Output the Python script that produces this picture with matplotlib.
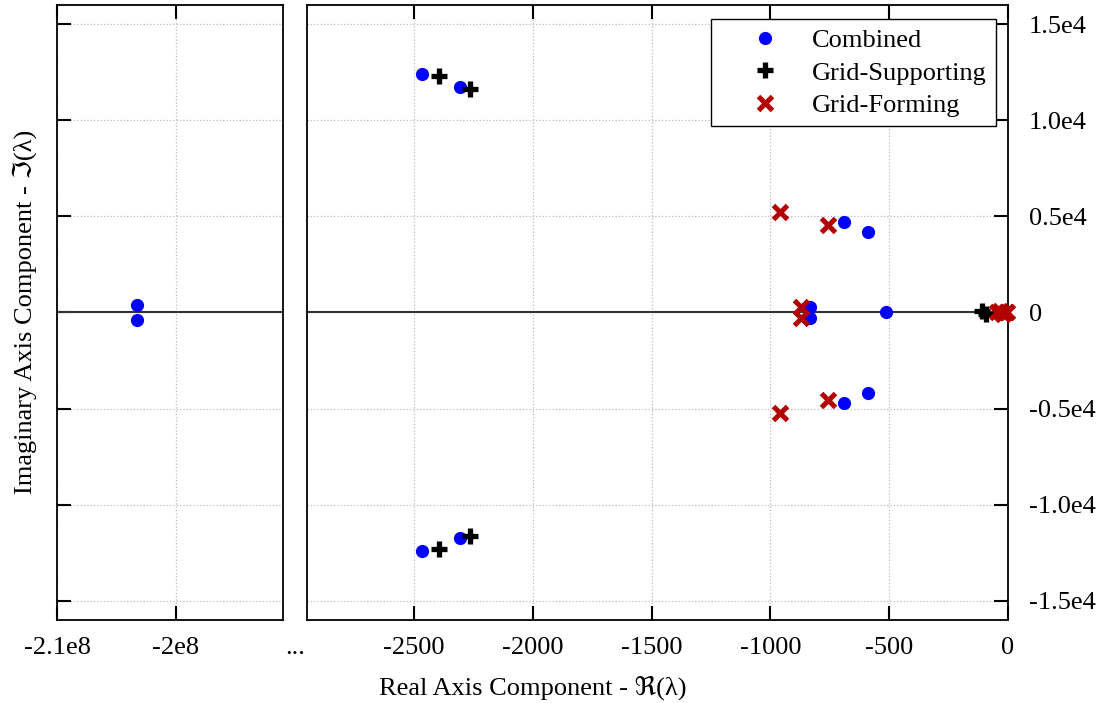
import matplotlib
matplotlib.use("Agg")
import matplotlib.pyplot as plt

plt.rcParams['font.family'] = ['Liberation Serif', 'DejaVu Serif', 'DejaVu Sans']
plt.rcParams['font.size'] = 19

# eigenvalues (real, imaginary)
combined_re = [-2.033e8, -2.033e8, -2466, -2466, -2307, -2307, -689, -689,
               -588, -588, -832, -832, -513]
combined_im = [400, -400, 12400, -12400, 11730, -11730, 4700, -4700,
               4190, -4190, 290, -290, 0]

supporting_re = [-2395, -2395, -2265, -2265, -108, -92]
supporting_im = [12300, -12300, 11620, -11620, 60, -60]

forming_re = [-958, -958, -756, -756, -870, -870, -45, -32, -20, -10, -3]
forming_im = [5230, -5230, 4550, -4550, 300, -300, 0, 60, -60, 0, 0]

left_xticks = [-2.1e8, -2e8]
left_xlabels = ['-2.1e8', '-2e8']
right_xticks = [-2500, -2000, -1500, -1000, -500, 0]
right_xlabels = ['-2500', '-2000', '-1500', '-1000', '-500', '0']
yticks = [-15000, -10000, -5000, 0, 5000, 10000, 15000]
ylabels = ['-1.5e4', '-1.0e4', '-0.5e4', '0', '0.5e4', '1.0e4', '1.5e4']

series = [
    ('Combined', combined_re, combined_im, dict(marker='o', color='#0000ff', ms=9.5, mew=0)),
    ('Grid-Supporting', supporting_re, supporting_im, dict(marker='+', color='black', ms=11, mew=3.8)),
    ('Grid-Forming', forming_re, forming_im, dict(marker='x', color='#b30000', ms=10, mew=3.6)),
]

fig = plt.figure(figsize=(10.99, 7.03), dpi=100)
ax_l = fig.add_axes([0.0519, 0.1181, 0.2056, 0.8748])
ax_r = fig.add_axes([0.2793, 0.1181, 0.6379, 0.8748])

for name, re, im, style in series:
    lx = [r for r in re if r < -1e6]
    ly = [i for r, i in zip(re, im) if r < -1e6]
    rx = [r for r in re if r >= -1e6]
    ry = [i for r, i in zip(re, im) if r >= -1e6]
    ax_l.plot(lx, ly, linestyle='none', clip_on=False, zorder=3, **style)
    ax_r.plot(rx, ry, linestyle='none', clip_on=False, zorder=3, label=name, **style)

for ax in (ax_l, ax_r):
    ax.axhline(0, color='#333333', lw=1.5, zorder=2)
    ax.set_ylim(-16000, 16000)
    ax.set_yticks(yticks)
    ax.grid(True, linestyle=':', color='#bbbbbb', lw=0.9)
    for sp in ax.spines.values():
        sp.set_linewidth(1.3)

ax_l.set_xlim(-2.1e8, -1.91e8)
ax_l.set_xticks(left_xticks)
ax_l.set_xticklabels(left_xlabels)
ax_l.tick_params(axis='x', direction='in', top=True, length=10, width=1.5, pad=12)
ax_l.tick_params(axis='y', direction='in', left=True, right=False, labelleft=False,
                 length=10, width=1.5)

ax_r.set_xlim(-2950, 0)
ax_r.set_xticks(right_xticks)
ax_r.set_xticklabels(right_xlabels)
ax_r.set_yticklabels(ylabels)
ax_r.tick_params(axis='x', direction='in', top=True, length=10, width=1.5, pad=12)
ax_r.tick_params(axis='y', direction='in', left=False, right=True, labelleft=False,
                 labelright=True, length=10, width=1.5, pad=15)

fig.text(0.2686, 0.078, '...', ha='center', va='center', fontsize=19)
fig.text(0.4845, 0.022, 'Real Axis Component - ℜ(λ)', ha='center', va='center', fontsize=19)
fig.text(0.022, 0.556, 'Imaginary Axis Component - ℑ(λ)', ha='center', va='center',
         rotation=90, fontsize=19)

leg = ax_r.legend(loc='upper right', bbox_to_anchor=(0.983, 0.977), borderaxespad=0,
                  fancybox=False, edgecolor='black', framealpha=1, fontsize=19,
                  labelspacing=0.35, handletextpad=0.1, borderpad=0.35, handlelength=3.4)
leg.get_frame().set_linewidth(1.0)

fig.savefig('out.png', dpi=100)
